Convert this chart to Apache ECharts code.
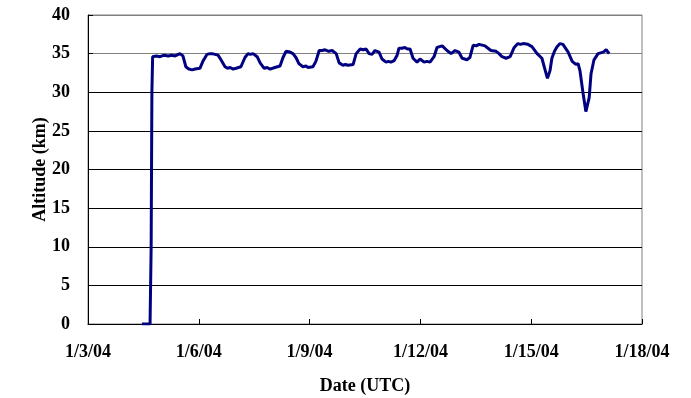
<!DOCTYPE html>
<html>
<head>
<meta charset="utf-8">
<script src="https://cdn.jsdelivr.net/npm/echarts@6/dist/echarts.min.js"></script>
<style>html,body{margin:0;padding:0;background:#fff}#c{width:691px;height:398px}</style>
</head>
<body>
<div id="c"></div>
<script>
// x: days since 1/3/04 00:00 UTC, y: altitude (km)
const days = [1.46,1.68,1.71,1.73,1.75,1.85,1.95,2.06,2.17,2.27,2.36,2.49,2.57,2.65,2.73,2.82,2.90,3.03,3.11,3.22,3.30,3.36,3.44,3.52,3.60,3.71,3.78,3.85,3.93,4.01,4.14,4.25,4.33,4.40,4.47,4.58,4.66,4.77,4.85,4.93,5.06,5.20,5.28,5.36,5.47,5.55,5.63,5.71,5.82,5.90,5.96,6.09,6.17,6.26,6.34,6.42,6.52,6.61,6.72,6.80,6.90,6.97,7.04,7.18,7.26,7.37,7.45,7.53,7.61,7.69,7.77,7.88,7.96,8.07,8.13,8.20,8.29,8.37,8.42,8.50,8.58,8.65,8.72,8.80,8.91,8.99,9.10,9.18,9.26,9.37,9.45,9.52,9.59,9.72,9.83,9.94,10.04,10.13,10.20,10.26,10.34,10.43,10.51,10.59,10.67,10.75,10.83,10.91,11.05,11.13,11.21,11.32,11.43,11.54,11.64,11.71,11.78,11.91,12.02,12.16,12.29,12.37,12.44,12.51,12.56,12.63,12.70,12.78,12.86,13.00,13.11,13.21,13.27,13.32,13.40,13.48,13.57,13.62,13.70,13.81,13.88,13.95,14.03,14.11];
const altitude = [0,0,10,30,34.6,34.7,34.6,34.8,34.7,34.8,34.7,35.0,34.7,33.3,33.0,32.9,33.0,33.1,34.0,34.9,35.0,35.0,34.9,34.8,34.2,33.3,33.1,33.2,33.0,33.1,33.3,34.5,35.0,34.9,35.0,34.6,33.8,33.1,33.2,33.0,33.2,33.4,34.5,35.3,35.2,35.0,34.5,33.7,33.3,33.4,33.2,33.3,34.0,35.4,35.4,35.5,35.3,35.4,35.0,33.8,33.5,33.6,33.5,33.6,35.0,35.6,35.5,35.6,35.0,34.9,35.4,35.2,34.3,33.9,34.0,33.9,34.1,34.8,35.7,35.7,35.8,35.6,35.6,34.4,33.9,34.3,33.9,34.0,33.9,34.6,35.8,35.9,36.0,35.4,35.0,35.4,35.2,34.4,34.3,34.2,34.5,36.1,36.0,36.2,36.1,36.0,35.7,35.4,35.3,35.0,34.6,34.4,34.6,35.8,36.3,36.2,36.3,36.2,35.9,35.0,34.4,33.0,31.8,32.8,34.4,35.3,35.9,36.3,36.2,35.2,34.0,33.6,33.7,32.8,30.0,27.5,29.3,32.4,34.2,35.0,35.1,35.2,35.5,35.0];
const tickLabels = ['1/3/04','1/6/04','1/9/04','1/12/04','1/15/04','1/18/04'];
const yTicks = [0,5,10,15,20,25,30,35,40];

const chart = echarts.init(document.getElementById('c'));
const font = {fontFamily:'"Liberation Serif", "Times New Roman", serif', fontWeight:'bold', color:'#000'};
chart.setOption({
  animation:false,
  backgroundColor:'#fff',
  grid:{left:88,right:49,top:15,bottom:74,show:true,borderColor:'#808080',borderWidth:1,backgroundColor:'transparent',outerBoundsMode:'none',containLabel:false},
  xAxis:{
    type:'value',min:0,max:15,interval:3,
    name:'Date (UTC)',nameLocation:'middle',nameGap:53,nameMoveOverlap:false,
    nameTextStyle:Object.assign({fontSize:18},font),
    axisLine:{show:true,lineStyle:{color:'#000',width:1}},
    axisTick:{show:true,inside:true,length:5,lineStyle:{color:'#000'}},
    axisLabel:Object.assign({fontSize:18,margin:19,formatter:v=>tickLabels[Math.round(v/3)]},font),
    splitLine:{show:false}
  },
  yAxis:{
    type:'value',min:0,max:40,interval:5,
    name:'Altitude (km)',nameLocation:'middle',nameGap:39,nameMoveOverlap:false,
    nameTextStyle:Object.assign({fontSize:18},font),
    axisLine:{show:true,lineStyle:{color:'#000',width:1}},
    axisTick:{show:true,inside:true,length:5,lineStyle:{color:'#000'}},
    axisLabel:Object.assign({fontSize:18,margin:18,formatter:v=>yTicks.includes(v)?String(v):''},font),
    splitLine:{show:true,lineStyle:{color:['#000','#000','#000','#000','#000','#000','#000','#808080','#808080'],width:1}}
  },
  series:[{
    type:'line',
    data:days.map((d,i)=>[d,altitude[i]]),
    showSymbol:false,
    lineStyle:{color:'#000080',width:3},
    itemStyle:{color:'#000080'}
  }]
});
</script>
</body>
</html>
